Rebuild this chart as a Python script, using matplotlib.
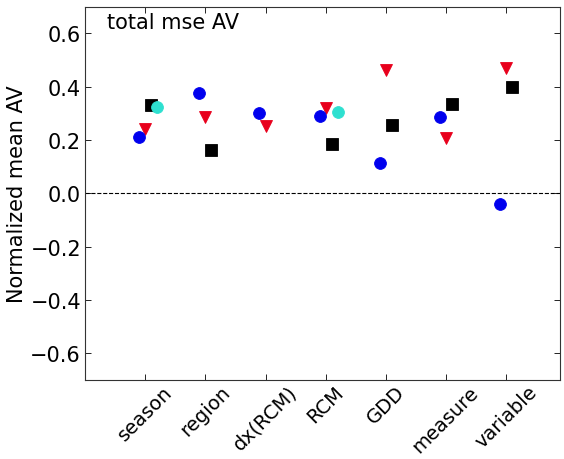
import numpy as np
import matplotlib
matplotlib.use("Agg")
import matplotlib.pyplot as plt

# categories along x
cats = ["season", "region", "dx(RCM)", "RCM", "GDD", "measure", "variable"]
# values per series (None = no marker)
blue_vals = [0.21, 0.375, 0.30, 0.289, 0.114, 0.285, -0.041]
red_vals = [0.24, 0.287, 0.251, 0.322, 0.464, 0.208, 0.472]
black_vals = [0.33, 0.162, None, 0.187, 0.255, 0.334, 0.398]
cyan_vals = [0.324, None, None, 0.304, None, None, None]

yticks = [-0.6, -0.4, -0.2, 0.0, 0.2, 0.4, 0.6]
FS = 15

plt.rcParams["font.family"] = "DejaVu Sans"
fig = plt.figure(figsize=(5.64, 4.60), dpi=100)
ax = fig.add_axes([0.151, 0.172, 0.842, 0.811])

x = np.arange(1, len(cats) + 1)

def scatter(vals, dx, mk, col, ms):
    xs = [xi + dx for xi, v in zip(x, vals) if v is not None]
    ys = [v for v in vals if v is not None]
    ax.plot(xs, ys, mk, color=col, ms=ms, mec=col, mew=0.6, ls="none")

scatter(red_vals, 0.0, "v", "#e8001c", 8.5)
scatter(blue_vals, -0.1, "o", "#0000ee", 8.5)
scatter(black_vals, 0.1, "s", "k", 8)
scatter(cyan_vals, 0.2, "o", "#2ee0d0", 8.5)

ax.axhline(0, color="k", lw=0.8, ls="--")
ax.set_xlim(0, 7.9)
ax.set_ylim(-0.7, 0.7)
ax.set_xticks(x)
ax.set_xticklabels(cats, rotation=45, ha="center", fontsize=14)
ax.set_yticks(yticks)
ax.set_yticklabels([f"{v:.1f}".replace("-", "\u2212") for v in yticks], fontsize=FS)
ax.tick_params(direction="in", top=True, right=True, length=4, width=0.6, pad=3)
ax.tick_params(axis="x", pad=1.5)
ax.set_ylabel("Normalized mean AV", fontsize=FS, labelpad=2)
for s in ax.spines.values():
    s.set_linewidth(0.8)
    s.set_color("#333333")
ax.text(0.046, 0.985, "total mse AV", transform=ax.transAxes, ha="left", va="top", fontsize=FS)

fig.savefig("out.png", dpi=100)
